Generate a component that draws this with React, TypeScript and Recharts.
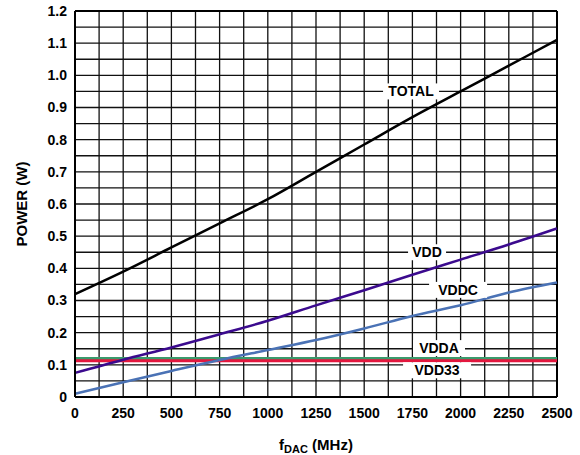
import React from 'react';
import { LineChart, Line, XAxis, YAxis, CartesianGrid, ReferenceLine, ReferenceDot, Label } from 'recharts';

const fDac = [0, 250, 500, 750, 1000, 1250, 1500, 1750, 2000, 2250, 2500];
const total = [0.32, 0.39, 0.465, 0.54, 0.615, 0.7, 0.785, 0.87, 0.95, 1.03, 1.11];
const vdd = [0.075, 0.116, 0.154, 0.195, 0.237, 0.285, 0.332, 0.38, 0.427, 0.474, 0.524];
const vddc = [0.01, 0.046, 0.081, 0.115, 0.146, 0.177, 0.213, 0.252, 0.285, 0.325, 0.356];
const vdda = [0.12, 0.12, 0.12, 0.12, 0.12, 0.12, 0.12, 0.12, 0.12, 0.12, 0.12];
const vdd33 = [0.113, 0.113, 0.113, 0.113, 0.113, 0.113, 0.113, 0.113, 0.113, 0.113, 0.113];

const xTicks = [0, 125, 250, 375, 500, 625, 750, 875, 1000, 1125, 1250, 1375, 1500, 1625, 1750, 1875, 2000, 2125, 2250, 2375, 2500];
const yTicks = [0, 0.05, 0.1, 0.15, 0.2, 0.25, 0.3, 0.35, 0.4, 0.45, 0.5, 0.55, 0.6, 0.65, 0.7, 0.75, 0.8, 0.85, 0.9, 0.95, 1.0, 1.05, 1.1, 1.15, 1.2];

const seriesLabels = [
  { name: 'TOTAL', x: 1743, y: 0.95, w: 56 },
  { name: 'VDD', x: 1826, y: 0.45, w: 38 },
  { name: 'VDDC', x: 1987, y: 0.333, w: 58 },
  { name: 'VDDA', x: 1888, y: 0.152, w: 52 },
  { name: 'VDD33', x: 1878, y: 0.083, w: 68 },
];

const data = fDac.map((f, i) => ({
  f,
  total: total[i],
  vdd: vdd[i],
  vddc: vddc[i],
  vdda: vdda[i],
  vdd33: vdd33[i],
}));

const FONT = 'Arial, "Liberation Sans", Helvetica, sans-serif';

const xFmt = (v: number) => (v % 250 === 0 ? String(v) : '');
const yFmt = (v: number) => {
  const r = Math.round(v * 100);
  if (r % 10 !== 0) return '';
  if (r === 0) return '0';
  return (r / 100).toFixed(1);
};

const tickStyle = { fontFamily: FONT, fontWeight: 700, fontSize: 14, fill: '#000' };

export default function App() {
  return (
    <div style={{ position: 'absolute', left: 0, top: 0, background: '#fff' }}>
      <LineChart width={580} height={455} data={data} margin={{ top: 11, right: 23, left: 0, bottom: 0 }}>
        <CartesianGrid stroke="#111" strokeWidth={1.3} />
        <XAxis
          type="number"
          dataKey="f"
          domain={[0, 2500]}
          ticks={xTicks}
          interval={0}
          tickFormatter={xFmt}
          tickLine={false}
          tickSize={6}
          tickMargin={5}
          axisLine={{ stroke: '#000', strokeWidth: 2 }}
          height={58}
          tick={tickStyle}
        >
          <Label
            content={() => (
              <text x={316} y={450} textAnchor="middle" fontFamily={FONT} fontWeight={700} fontSize={15} fill="#000">
                <tspan>f</tspan>
                <tspan fontSize={11} dy={3}>DAC</tspan>
                <tspan dy={-3}> (MHz)</tspan>
              </text>
            )}
          />
        </XAxis>
        <YAxis
          type="number"
          domain={[0, 1.2]}
          ticks={yTicks}
          interval={0}
          tickFormatter={yFmt}
          tickLine={false}
          tickSize={6}
          tickMargin={2}
          axisLine={{ stroke: '#000', strokeWidth: 2 }}
          width={75}
          tick={tickStyle}
        >
          <Label
            content={() => (
              <text
                x={0}
                y={0}
                transform="translate(27,204) rotate(-90)"
                textAnchor="middle"
                fontFamily={FONT}
                fontWeight={700}
                fontSize={15}
                fill="#000"
              >
                POWER (W)
              </text>
            )}
          />
        </YAxis>
        <ReferenceLine y={1.2} stroke="#000" strokeWidth={2} />
        <ReferenceLine x={2500} stroke="#000" strokeWidth={2} />
        <Line type="monotone" dataKey="vdda" stroke="#3a9a6c" strokeWidth={3} dot={false} isAnimationActive={false} />
        <Line type="monotone" dataKey="vdd33" stroke="#e3173e" strokeWidth={3} dot={false} isAnimationActive={false} />
        <Line type="monotone" dataKey="vddc" stroke="#4a72b5" strokeWidth={2.5} dot={false} isAnimationActive={false} />
        <Line type="monotone" dataKey="vdd" stroke="#3b0a8e" strokeWidth={2.5} dot={false} isAnimationActive={false} />
        <Line type="monotone" dataKey="total" stroke="#000" strokeWidth={2.5} dot={false} isAnimationActive={false} />
        {seriesLabels.map((l) => (
          <ReferenceDot
            key={l.name}
            x={l.x}
            y={l.y}
            ifOverflow="visible"
            shape={(p: any) => (
              <g>
                <rect x={p.cx - l.w / 2} y={p.cy - 8} width={l.w} height={16} fill="#fff" />
                <text
                  x={p.cx}
                  y={p.cy + 5}
                  textAnchor="middle"
                  fontFamily={FONT}
                  fontWeight={700}
                  fontSize={14}
                  fill="#000"
                >
                  {l.name}
                </text>
              </g>
            )}
          />
        ))}
      </LineChart>
    </div>
  );
}
